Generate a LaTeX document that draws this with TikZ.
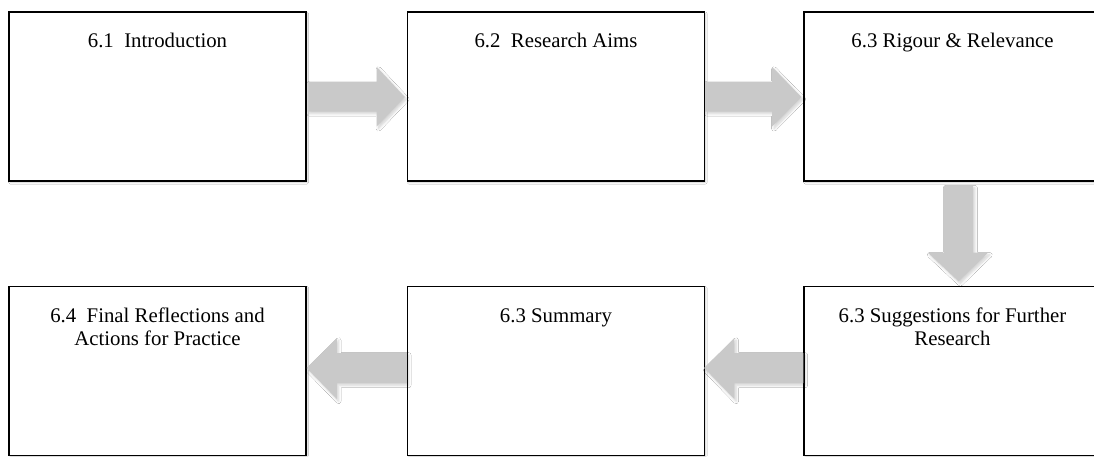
\documentclass[tikz,border=0pt]{standalone}
\usepackage{fontspec}
\setmainfont{Liberation Serif}
\usetikzlibrary{calc,shadows,shadows.blur}

\tikzset{
  x=1pt, y=-1pt,
  stage/.style={draw=black, line width=1.4pt, fill=white,
    minimum width=297pt, minimum height=169pt, inner sep=0pt,
    blur shadow={shadow xshift=1.2pt, shadow yshift=-1.5pt, shadow blur steps=4,
      shadow blur radius=1.5pt, shadow opacity=20}},
  stagetext/.style={anchor=north, inner sep=0pt, align=center,
    font=\fontsize{20.8}{23.5}\selectfont},
  blockarrow/.style={fill=black!21, draw=none,
    blur shadow={shadow xshift=1.8pt, shadow yshift=-2.2pt, shadow blur steps=6,
      shadow blur radius=2.5pt, shadow opacity=18}},
}
\newcommand{\firstline}{\rule{0pt}{16pt}}

\begin{document}
\begin{tikzpicture}
  \useasboundingbox (0,0) rectangle (1094,456);
  \clip (0,0) rectangle (1094,456);
  \fill[white] (0,0) rectangle (1094,456);

  % stage boxes
  \node[stage] (b1) at (157.5,96.5) {};
  \node[stage] (b2) at (556,96.5) {};
  \node[stage] (b3) at (952.5,96.5) {};
  \node[stage] (b4) at (157.5,371) {};
  \node[stage] (b5) at (556,371) {};
  \node[stage] (b6) at (952.5,371) {};

  % titles
  \node[stagetext] (t1) at ($(b1.north)+(0,20)$) {\firstline 6.1\ \ Introduction};
  \node[stagetext] (t2) at ($(b2.north)+(0,20)$) {\firstline 6.2\ \ Research Aims};
  \node[stagetext] (t3) at ($(b3.north)+(0,20)$) {\firstline 6.3 Rigour \& Relevance};
  \node[stagetext] (t4) at ($(b4.north)+(0,20)$) {\firstline 6.4\ \ Final Reflections and\\Actions for Practice};
  \node[stagetext] (t5) at ($(b5.north)+(0,20)$) {\firstline 6.3 Summary};
  \node[stagetext] (t6) at ($(b6.north)+(0,20)$) {\firstline 6.3 Suggestions for Further\\Research};

  % block arrows: top row, left to right
  \fill[blockarrow] ($(b1.east)+(1,-15)$) -- ($(b1.east)+(70,-15)$) -- ($(b1.east)+(70,-29.5)$)
    -- ($(b2.west)+(-2,0.5)$) -- ($(b1.east)+(70,30)$) -- ($(b1.east)+(70,15)$)
    -- ($(b1.east)+(1,15)$) -- cycle;
  \fill[blockarrow] ($(b2.east)+(0,-15)$) -- ($(b2.east)+(67,-15)$) -- ($(b2.east)+(67,-29.5)$)
    -- ($(b3.west)+(-2,0.5)$) -- ($(b2.east)+(67,30)$) -- ($(b2.east)+(67,15)$)
    -- ($(b2.east)+(0,15)$) -- cycle;

  % block arrow: down the right side
  \fill[blockarrow] ($(b3.south)+(-8.5,4)$) -- ($(b3.south)+(20.5,4)$) -- ($(b3.south)+(20.5,71)$)
    -- ($(b3.south)+(35.5,71)$) -- ($(b6.north)+(6,-4.5)$) -- ($(b3.south)+(-24.5,71)$)
    -- ($(b3.south)+(-8.5,71)$) -- cycle;

  % block arrows: bottom row, right to left
  \fill[blockarrow] ($(b6.west)+(0,-18)$) -- ($(b6.west)+(-69,-18)$) -- ($(b6.west)+(-69,-33)$)
    -- ($(b5.east)+(-1,-3)$) -- ($(b6.west)+(-69,28)$) -- ($(b6.west)+(-69,12)$)
    -- ($(b6.west)+(0,12)$) -- cycle;
  \fill[blockarrow] ($(b5.west)+(0,-18)$) -- ($(b5.west)+(-70,-18)$) -- ($(b5.west)+(-70,-33)$)
    -- ($(b4.east)+(0,-3)$) -- ($(b5.west)+(-70,28)$) -- ($(b5.west)+(-70,12)$)
    -- ($(b5.west)+(0,12)$) -- cycle;
\end{tikzpicture}
\end{document}
